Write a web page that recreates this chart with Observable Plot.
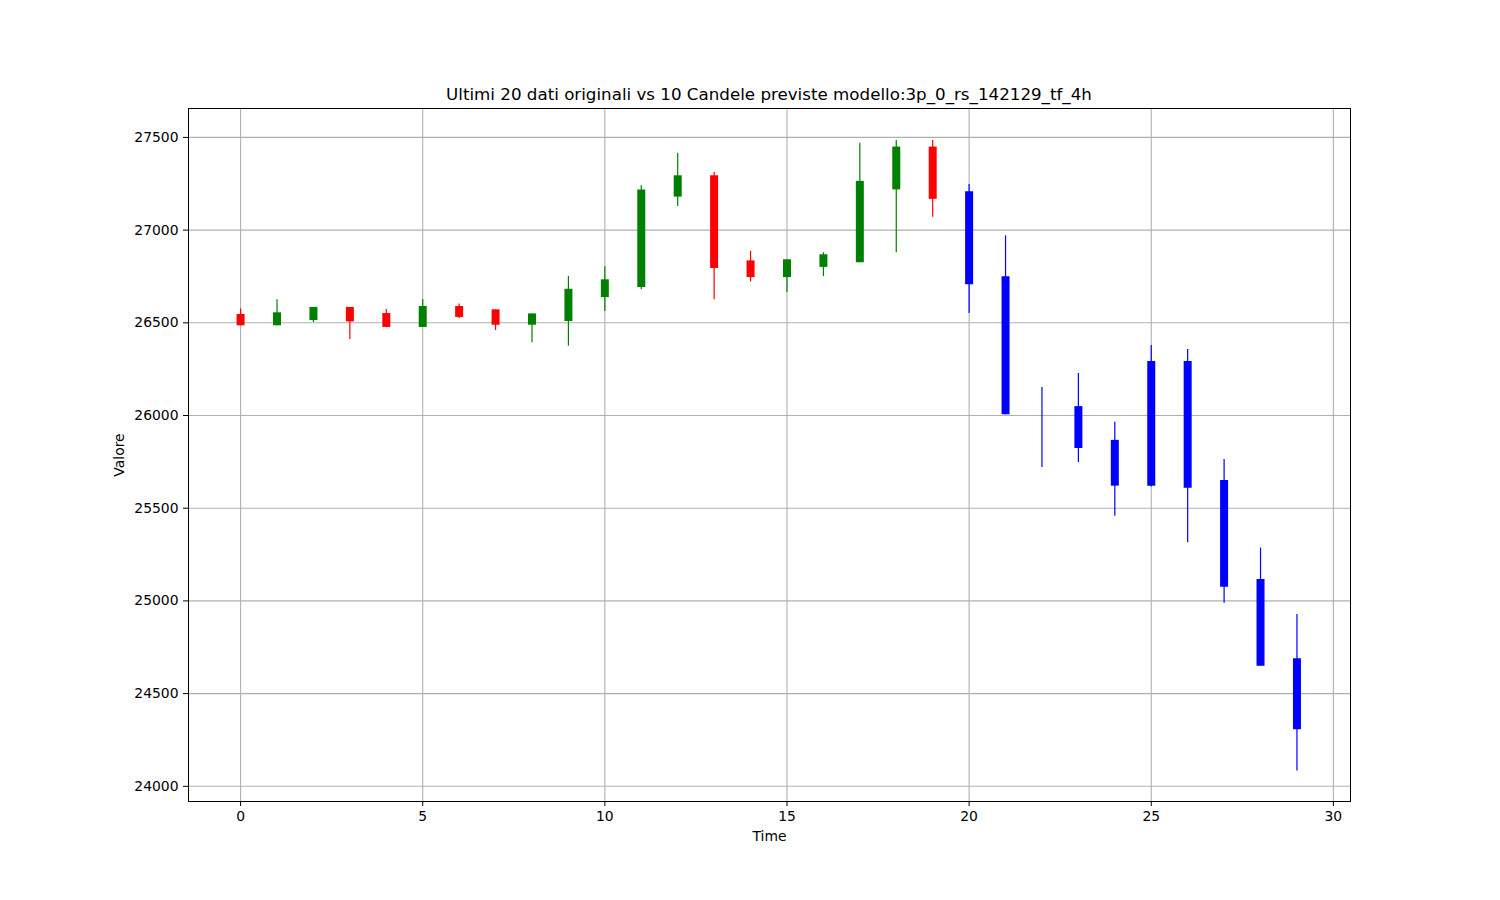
<!DOCTYPE html>
<html><head><meta charset="utf-8">
<script src="https://cdn.jsdelivr.net/npm/d3@7"></script>
<script src="https://cdn.jsdelivr.net/npm/@observablehq/plot@0.6"></script>
<style>
body{margin:0;background:#fff;font-family:"DejaVu Sans",sans-serif;}
#wrap{position:relative;width:1500px;height:900px;}
#title{position:absolute;top:84px;left:188px;width:1162px;text-align:center;font-size:16.7px;color:#000;line-height:20px;}
</style></head><body>
<div id="wrap"><div id="title">Ultimi 20 dati originali vs 10 Candele previste modello:3p_0_rs_142129_tf_4h</div></div>
<script>
const times = [0,1,2,3,4,5,6,7,8,9,10,11,12,13,14,15,16,17,18,19,20,21,22,23,24,25,26,27,28,29];
const opens  = [26545,26484,26512,26583,26550,26475,26588,26570,26487,26507,26636,26690,27178,27293,26834,26744,26799,26824,27217,27448,27207,26748,25950,26048,25866,26292,26292,25650,25116,24688];
const closes = [26484,26554,26583,26505,26475,26588,26529,26487,26548,26681,26732,27217,27293,26793,26744,26840,26867,27263,27448,27166,26705,26004,25950,25822,25619,25619,25608,25074,24648,24305];
const highs  = [26575,26624,26583,26583,26572,26624,26602,26570,26548,26750,26802,27239,27415,27311,26885,26840,26878,27469,27484,27484,27246,26969,26151,26227,25964,26378,26356,25763,25285,24927];
const lows   = [26484,26484,26502,26410,26475,26475,26523,26458,26393,26374,26561,26678,27128,26624,26721,26663,26750,26824,26878,27070,26550,26004,25719,25746,25457,25614,25314,24988,24648,24082];
const nOriginal = 20;
const xTicks = [0,5,10,15,20,25,30];
const yTicks = [24000,24500,25000,25500,26000,26500,27000,27500];

const data = times.map((t,i)=>({
  t, open:opens[i], close:closes[i], high:highs[i], low:lows[i],
  color: i >= nOriginal ? "blue" : (closes[i] >= opens[i] ? "green" : "red")
}));

const chart = Plot.plot({
  width:1500, height:900,
  marginLeft:188, marginRight:150, marginTop:108, marginBottom:99,
  style:{fontFamily:"DejaVu Sans, sans-serif", fontSize:"13.9px", color:"#000", background:"transparent"},
  x:{domain:[-1.43,30.47]},
  y:{domain:[23918,27656]},
  marks:[
    Plot.gridX(xTicks,{stroke:"#b0b0b0", strokeOpacity:1, strokeWidth:1.1}),
    Plot.gridY(yTicks,{stroke:"#b0b0b0", strokeOpacity:1, strokeWidth:1.1}),
    Plot.ruleX(data,{x:"t", y1:"low", y2:"high", stroke:"color", strokeWidth:1.2}),
    Plot.ruleX(data,{x:"t", y1:"open", y2:"close", stroke:"color", strokeWidth:8}),
    Plot.frame({stroke:"#000", strokeWidth:1}),
    Plot.axisX(xTicks,{tickSize:5, tickPadding:5, tickFormat:d=>String(d), label:"Time", labelAnchor:"center", labelArrow:"none", labelOffset:39}),
    Plot.axisY(yTicks,{tickSize:5, tickPadding:5, tickFormat:d=>String(d), label:"Valore", labelAnchor:"center", labelArrow:"none", labelOffset:74})
  ]
});
chart.style.position="absolute"; chart.style.left="0"; chart.style.top="0";
document.getElementById("wrap").appendChild(chart);
</script>
</body></html>
